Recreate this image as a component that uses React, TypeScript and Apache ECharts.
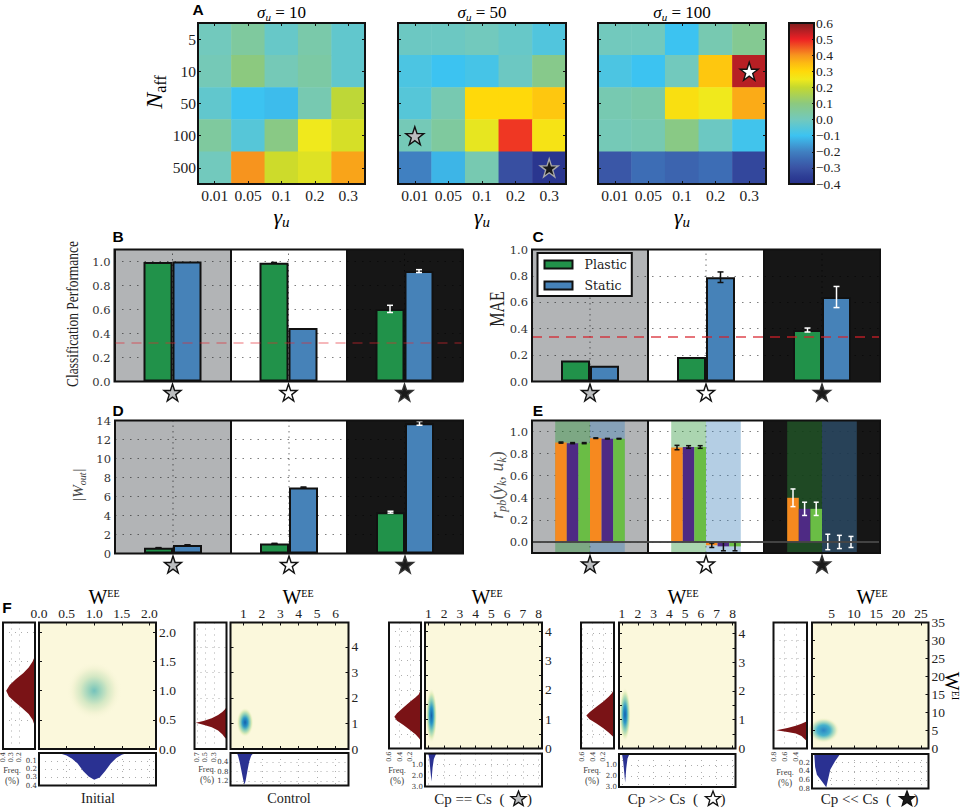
import { useEffect, useRef } from "react";
import * as echarts from "echarts";

const SERIF = "Liberation Serif";
const WIDE_SERIF = "DejaVu Serif";
const SANS = "Liberation Sans";
const INK = "#111";

// panel A
const gammaLabels = ["0.01", "0.05", "0.1", "0.2", "0.3"];
const affLabels = ["5", "10", "50", "100", "500"];
const heat10 = [
  [0.0, 0.05, -0.02, 0.03, -0.03],
  [0.01, 0.1, 0.01, 0.04, -0.03],
  [-0.03, -0.1, -0.11, 0.02, 0.19],
  [0.05, -0.05, 0.09, 0.25, 0.22],
  [0.0, 0.4, 0.21, 0.23, 0.38],
];
const heat50 = [
  [-0.01, -0.01, 0.0, -0.02, -0.06],
  [-0.07, -0.1, -0.08, -0.01, 0.08],
  [-0.05, 0.02, 0.3, 0.3, 0.33],
  [0.01, 0.05, 0.24, 0.48, 0.27],
  [-0.2, -0.12, 0.02, -0.31, -0.38],
];
const heat100 = [
  [0.0, 0.0, -0.1, 0.02, 0.07],
  [-0.07, -0.1, 0.0, 0.33, 0.55],
  [0.02, 0.03, 0.28, 0.25, 0.37],
  [0.01, 0.02, 0.09, -0.01, -0.09],
  [-0.29, -0.24, -0.26, -0.24, -0.33],
];
const colorStops = [
  "#27308a", "#2e3f96", "#3a53a4", "#3c68b2", "#4080c1", "#3fa1d9", "#3cc3f1",
  "#56c6d8", "#72c9bd", "#7fc99e", "#8cc97f", "#a8d157", "#c4d82f", "#f0e91c",
  "#ffd90a", "#fdbb12", "#f7941e", "#f15a22", "#ed2024", "#b71f24", "#7f1d1d",
];
const colorbarTicks = [-0.4, -0.3, -0.2, -0.1, 0, 0.1, 0.2, 0.3, 0.4, 0.5, 0.6];

// panels B, C, D
const sections = ["grey", "white", "black"];
const sectionColors = ["#b2b4b6", "#ffffff", "#161616"];
const starColors = ["#bbbdbf", "#ffffff", "#1a1a1a"];
const perfPlastic = [0.995, 0.99, 0.605];
const perfStatic = [1.0, 0.445, 0.92];
const perfPlasticErr = [0, 0.002, 0.03];
const perfStaticErr = [0, 0, 0.012];
const maePlastic = [0.16, 0.185, 0.39];
const maeStatic = [0.12, 0.79, 0.64];
const maePlasticErr = [0, 0, 0.015];
const maeStaticErr = [0, 0.04, 0.08];
const wPlastic = [0.6, 1.05, 4.35];
const wStatic = [0.9, 6.95, 13.7];
const wPlasticErr = [0.02, 0.02, 0.1];
const wStaticErr = [0.02, 0.05, 0.2];

// panel E
const rOrangePlastic = [0.9, 0.855, 0.4];
const rPurplePlastic = [0.895, 0.86, 0.3];
const rLimePlastic = [0.895, 0.86, 0.3];
const rOrangeStatic = [0.94, -0.03, 0.0];
const rPurpleStatic = [0.935, -0.04, 0.0];
const rLimeStatic = [0.935, -0.04, 0.0];
const rOrangePlasticErr = [0.005, 0.02, 0.08];
const rPurplePlasticErr = [0.005, 0.012, 0.06];
const rLimePlasticErr = [0.005, 0.012, 0.06];
const rOrangeStaticErr = [0.003, 0.02, 0.07];
const rPurpleStaticErr = [0.003, 0.04, 0.06];
const rLimeStaticErr = [0.003, 0.04, 0.05];

// panel F: [freq, W^EI] on the left, [W^EE, freq] underneath
const leftInitial = [[0, 1.6], [0.03, 1.5], [0.08, 1.4], [0.15, 1.3], [0.24, 1.2], [0.32, 1.1], [0.365, 1.0], [0.33, 0.9], [0.25, 0.8], [0.16, 0.7], [0.08, 0.6], [0.03, 0.5], [0, 0.38]];
const bottomInitial = [[0.36, 0], [0.5, 0.03], [0.6, 0.07], [0.7, 0.13], [0.8, 0.22], [0.9, 0.29], [1.0, 0.33], [1.1, 0.3], [1.2, 0.22], [1.3, 0.13], [1.4, 0.06], [1.5, 0.02], [1.6, 0]];
const leftControl = [[0, 1.63], [0.04, 1.55], [0.1, 1.45], [0.2, 1.33], [0.35, 1.2], [0.55, 1.1], [0.73, 1.03], [0.55, 0.95], [0.35, 0.85], [0.2, 0.72], [0.1, 0.58], [0.04, 0.45], [0, 0.38]];
const bottomControl = [[0.65, 0], [0.72, 0.15], [0.8, 0.4], [0.9, 0.8], [1.0, 1.2], [1.06, 1.36], [1.12, 1.2], [1.22, 0.75], [1.32, 0.35], [1.42, 0.12], [1.55, 0]];
const leftEqual = [[0, 2.03], [0.04, 1.85], [0.1, 1.75], [0.2, 1.6], [0.33, 1.4], [0.45, 1.2], [0.5, 1.08], [0.45, 0.95], [0.33, 0.8], [0.2, 0.62], [0.1, 0.48], [0.04, 0.36], [0, 0.26]];
const bottomEqual = [[1.0, 0], [1.07, 0.5], [1.13, 1.5], [1.2, 2.55], [1.27, 1.3], [1.35, 0.5], [1.5, 0]];
const leftPlastic = [[0, 2.05], [0.04, 1.92], [0.1, 1.8], [0.2, 1.63], [0.33, 1.45], [0.46, 1.26], [0.52, 1.15], [0.46, 1.02], [0.33, 0.87], [0.2, 0.7], [0.1, 0.56], [0.04, 0.45], [0, 0.38]];
const bottomPlastic = [[1.0, 0], [1.07, 0.6], [1.13, 1.5], [1.2, 2.6], [1.27, 1.3], [1.35, 0.4], [1.47, 0]];
const leftStatic = [[0.2, 7.6], [0.3, 6.9], [0.4, 6.3], [0.55, 5.7], [0.75, 5.05], [0.55, 4.6], [0.4, 4.2], [0.3, 3.5], [0.2, 2.0]];
const bottomStatic = [[1.1, 0], [1.3, 0.3], [1.7, 0.48], [2.8, 0.63], [3.8, 0.77], [4.7, 0.36], [5.8, 0.16], [6.9, 0]];

const STAR_PATH = "path://M50 0L61.8 35.1H97.6L68.6 56.7L79.4 91L50 70.2L20.6 91L31.4 56.7L2.4 35.1H38.2Z";

type Rect = { x: number; y: number; w: number; h: number };

const grids: any[] = [];
const xAxes: any[] = [];
const yAxes: any[] = [];
const series: any[] = [];
const graphics: any[] = [];
const heatSeries: number[] = [];

function addGrid(r: Rect) {
  grids.push({ left: r.x, top: r.y, width: r.w, height: r.h, containLabel: false, outerBoundsMode: "none", show: false });
  graphics.push({ type: "rect", z: 100, shape: { x: r.x, y: r.y, width: r.w, height: r.h }, style: { fill: "none", stroke: INK, lineWidth: 2 } });
  return grids.length - 1;
}

function addX(o: any) {
  xAxes.push({ axisLine: { show: false, onZero: false }, axisTick: { show: false }, axisLabel: { show: false }, splitLine: { show: false }, ...o });
  return xAxes.length - 1;
}

function addY(o: any) {
  yAxes.push({ axisLine: { show: false, onZero: false }, axisTick: { show: false }, axisLabel: { show: false }, splitLine: { show: false }, ...o });
  return yAxes.length - 1;
}

function label(x: number, y: number, text: string, o: any = {}) {
  const { rotation = 0, scaleX = 1, scaleY = 1, ...style } = o;
  graphics.push({
    type: "text", z: 100, x, y, rotation, scaleX, scaleY,
    style: { text, fontFamily: SERIF, fontSize: 14, fill: "#222", align: "center", verticalAlign: "middle", ...style },
  });
}

function starOutline(cx: number, cy: number, r: number) {
  const pts: number[][] = [];
  for (let i = 0; i < 10; i++) {
    const a = -Math.PI / 2 + (i * Math.PI) / 5;
    const k = i % 2 ? r * 0.42 : r;
    pts.push([cx + k * Math.cos(a), cy + k * Math.sin(a)]);
  }
  return pts;
}

function titleStar(cx: number, cy: number, fill: string) {
  graphics.push({ type: "polygon", z: 100, shape: { points: starOutline(cx, cy, 8) }, style: { fill, stroke: INK, lineWidth: 1.3 } });
}

function subText(parts: [string, string][], size: number, subSize: number, extra: any = {}) {
  const lh = extra.lineHeight ?? size + 4;
  return {
    text: parts.map(([k, t]) => `{${k}|${t}}`).join(""),
    rich: {
      i: { fontFamily: SERIF, fontStyle: "italic", fontSize: size, lineHeight: lh, fill: extra.fill },
      n: { fontFamily: SERIF, fontSize: size, lineHeight: lh, fill: extra.fill },
      s: { fontFamily: SERIF, fontStyle: "italic", fontSize: subSize, lineHeight: subSize, verticalAlign: "bottom", fill: extra.fill },
      r: { fontFamily: SERIF, fontSize: subSize, lineHeight: subSize, verticalAlign: "bottom", fill: extra.fill },
      e: { fontFamily: SERIF, fontSize: subSize, lineHeight: subSize, verticalAlign: "top", fill: extra.fill },
    },
  };
}

function stars(xi: number, yi: number, z = 3) {
  return (points: { at: number[]; fill: string; stroke?: string }[], size = 18, offset = [0, 0]) => {
    series.push({
      type: "scatter", xAxisIndex: xi, yAxisIndex: yi, z, clip: false,
      symbol: STAR_PATH, symbolSize: size, symbolOffset: offset,
      data: points.map((p) => ({
        value: p.at,
        itemStyle: { color: p.fill, borderColor: p.stroke ?? INK, borderWidth: 1.4, opacity: 1 },
      })),
    });
  };
}

function addHeat(r: Rect, rows: number[][], showY: boolean, marks: { at: number[]; fill: string; stroke?: string }[]) {
  const gridIndex = addGrid(r);
  const tick = { show: true, inside: true, length: 3, alignWithLabel: true, lineStyle: { color: INK } };
  const xi = addX({
    type: "category", gridIndex, data: gammaLabels, position: "bottom", z: 5, axisTick: tick,
    axisLabel: { show: true, interval: 0, fontFamily: SERIF, fontSize: 15.5, color: "#222", margin: 3 },
  });
  addX({ type: "category", gridIndex, data: gammaLabels, position: "top", z: 5, axisTick: tick });
  const yi = addY({
    type: "category", gridIndex, data: affLabels, inverse: true, position: "left", z: 5, axisTick: tick,
    axisLabel: { show: showY, interval: 0, fontFamily: SERIF, fontSize: 15.5, color: "#222", margin: 2 },
  });
  addY({ type: "category", gridIndex, data: affLabels, inverse: true, position: "right", z: 5, axisTick: tick });
  heatSeries.push(series.length);
  series.push({
    type: "heatmap", xAxisIndex: xi, yAxisIndex: yi, z: 2, progressive: 0,
    data: rows.flatMap((row, y) => row.map((v, x) => [x, y, v])),
  });
  if (marks.length) stars(xi, yi)(marks);
}

function addColorbar(r: Rect) {
  const gridIndex = addGrid(r);
  const xi = addX({ type: "category", gridIndex, data: ["c"] });
  const yi = addY({
    type: "value", gridIndex, min: -0.4, max: 0.6, position: "right", z: 5,
    axisTick: { show: true, inside: true, length: 2, customValues: colorbarTicks, lineStyle: { color: INK } },
    axisLabel: {
      show: true, customValues: colorbarTicks, fontFamily: SERIF, fontSize: 13.5, color: "#222", margin: 2,
      formatter: (v: number) => v.toFixed(1).replace("-", "\u2212"),
    },
  });
  const fill = new echarts.graphic.LinearGradient(0, 1, 0, 0, colorStops.map((color, i) => ({ offset: i / (colorStops.length - 1), color })));
  series.push({
    type: "custom", xAxisIndex: xi, yAxisIndex: yi, data: [[0, -0.4]], encode: { x: 0, y: 1 },
    renderItem: (_: any, api: any) => {
      const bottom = api.coord([0, -0.4]);
      const top = api.coord([0, 0.6]);
      const w = api.size([1, 0])[0];
      return { type: "rect", shape: { x: bottom[0] - w / 2, y: top[1], width: w, height: bottom[1] - top[1] }, style: { fill } };
    },
  });
}

function addErrors(xi: number, yi: number, rows: number[][], capHalf: number) {
  series.push({
    type: "custom", xAxisIndex: xi, yAxisIndex: yi, z: 4, data: rows, encode: { x: 0, y: [1, 2] },
    renderItem: (_: any, api: any) => {
      const band = api.size([1, 0])[0];
      const cat = api.value(0);
      const x = api.coord([cat, 0])[0] + api.value(3) * band;
      const lo = api.coord([cat, api.value(1)])[1];
      const hi = api.coord([cat, api.value(2)])[1];
      const style = { stroke: cat === 2 ? "#fff" : INK, lineWidth: 1.5 };
      return {
        type: "group",
        children: [
          { type: "line", shape: { x1: x, y1: lo, x2: x, y2: hi }, style },
          { type: "line", shape: { x1: x - capHalf, y1: lo, x2: x + capHalf, y2: lo }, style },
          { type: "line", shape: { x1: x - capHalf, y1: hi, x2: x + capHalf, y2: hi }, style },
        ],
      };
    },
  });
}

function errorRows(values: number[], errs: number[], offset: number) {
  return values.map((v, i) => [i, v - errs[i], v + errs[i], offset]).filter((row) => row[2] - row[1] > 0);
}

function sectionAxes(r: Rect, yMin: number, yMax: number, ticks: number[], decimals: number) {
  const gridIndex = addGrid(r);
  const xi = addX({
    type: "category", gridIndex, data: sections, position: "bottom",
    splitArea: { show: true, interval: 0, areaStyle: { color: sectionColors, opacity: 1 } },
    splitLine: { show: true, interval: 0, lineStyle: { color: INK, width: 2 } },
  });
  // z 1 lifts the dotted lines over the section backgrounds
  const yi = addY({
    type: "value", gridIndex, min: yMin, max: yMax, z: 1,
    axisTick: { show: false, customValues: ticks },
    axisLabel: { show: true, customValues: ticks, fontFamily: WIDE_SERIF, fontSize: 11.5, color: "#333", margin: 4, formatter: (v: number) => v.toFixed(decimals) },
    splitLine: { show: true, lineStyle: { color: "rgba(0,0,0,0.5)", type: [1.5, 6], width: 1 } },
  });
  // dotted guide through the middle of each section, behind the bars
  series.push({
    type: "custom", xAxisIndex: xi, yAxisIndex: yi, z: 1, data: sections.map((_, i) => [i, yMin]), encode: { x: 0, y: 1 },
    renderItem: (_: any, api: any) => {
      const a = api.coord([api.value(0), yMin]);
      const b = api.coord([api.value(0), yMax]);
      return { type: "line", shape: { x1: a[0], y1: a[1], x2: b[0], y2: b[1] }, style: { stroke: "rgba(0,0,0,0.55)", lineWidth: 1, lineDash: [1.5, 4] } };
    },
  });
  stars(xi, yi, 6)(sections.map((_, i) => ({ at: [i, yMin], fill: starColors[i], stroke: i === 2 ? "#333" : INK })), 17, [0, 11]);
  return { xi, yi };
}

function addBars(r: Rect, plastic: number[], stat: number[], plasticErr: number[], statErr: number[], yMax: number, ticks: number[], decimals: number, ref?: { y: number; color: string }) {
  const { xi, yi } = sectionAxes(r, 0, yMax, ticks, decimals);
  const bar = (name: string, data: number[], color: string) => ({
    type: "bar", name, data, xAxisIndex: xi, yAxisIndex: yi, barWidth: "25%", barGap: "0%", z: 2,
    itemStyle: { color, borderColor: INK, borderWidth: 2 },
  });
  const first: any = bar("Plastic", plastic, "#21924a");
  if (ref) {
    first.markLine = {
      silent: true, symbol: "none", z: 7, label: { show: false }, data: [{ yAxis: ref.y }],
      lineStyle: { color: ref.color, type: [10, 7], width: 2 },
    };
  }
  series.push(first, bar("Static", stat, "#4682b8"));
  addErrors(xi, yi, errorRows(plastic, plasticErr, -0.125), 3);
  addErrors(xi, yi, errorRows(stat, statErr, 0.125), 3);
}

function addCorrelation(r: Rect) {
  const { xi, yi } = sectionAxes(r, -0.1, 1.1, [0, 0.2, 0.4, 0.6, 0.8, 1.0], 1);
  series.push({
    type: "custom", xAxisIndex: xi, yAxisIndex: yi, z: 1, data: sections.map((_, i) => [i, -0.1]), encode: { x: 0, y: 1 },
    renderItem: (_: any, api: any) => {
      const band = api.size([1, 0])[0];
      const cx = api.coord([api.value(0), 0])[0];
      const top = api.coord([api.value(0), 1.1])[1];
      const bottom = api.coord([api.value(0), -0.1])[1];
      const shape = (x: number) => ({ x, y: top, width: band * 0.3, height: bottom - top });
      return {
        type: "group",
        children: [
          { type: "rect", shape: shape(cx - band * 0.3), style: { fill: "rgba(44,149,58,0.4)" } },
          { type: "rect", shape: shape(cx), style: { fill: "rgba(68,132,187,0.4)" } },
        ],
      };
    },
  });
  const groups: [number[], number[], string][] = [
    [rOrangePlastic, rOrangePlasticErr, "#f6891f"],
    [rPurplePlastic, rPurplePlasticErr, "#4e2a84"],
    [rLimePlastic, rLimePlasticErr, "#6abd45"],
    [rOrangeStatic, rOrangeStaticErr, "#f6891f"],
    [rPurpleStatic, rPurpleStaticErr, "#4e2a84"],
    [rLimeStatic, rLimeStaticErr, "#6abd45"],
  ];
  groups.forEach(([data, , color], i) => {
    const s: any = { type: "bar", data, xAxisIndex: xi, yAxisIndex: yi, barWidth: "10%", barGap: "0%", z: 2, itemStyle: { color } };
    if (i === 0) {
      s.markLine = {
        silent: true, symbol: "none", z: 7, label: { show: false }, data: [{ yAxis: 0 }],
        lineStyle: { color: "rgba(70,70,70,0.95)", type: "solid", width: 2 },
      };
    }
    series.push(s);
  });
  groups.forEach(([data, errs], i) => addErrors(xi, yi, errorRows(data, errs, (i - 2.5) * 0.1), 2.5));
}

function addPolygon(xi: number, yi: number, points: number[][], fill: string) {
  series.push({
    type: "custom", xAxisIndex: xi, yAxisIndex: yi, z: 2, data: [points[0]], encode: { x: 0, y: 1 },
    renderItem: (_: any, api: any) => ({
      type: "polygon", shape: { points: points.map((p) => api.coord(p)) }, style: { fill },
    }),
  });
}

const dots = { show: true, lineStyle: { color: "rgba(0,0,0,0.32)", type: [1, 5], width: 1 } };

type DensityPanel = {
  left: Rect; main: Rect; bottom: Rect;
  xRange: number[]; yRange: number[];
  xTicks: number[]; yTicks: number[]; yMinor: number[];
  xDigits: number; yDigits: number;
  freqLeft: number[]; freqLeftTicks: number[];
  freqBottom: number; freqBottomTicks: number[]; freqBottomDigits: number;
  leftCurve: number[][]; bottomCurve: number[][];
  blob: number[]; blobStops: [number, string][];
};

function addDensity(p: DensityPanel) {
  const serifTicks = { show: true, fontFamily: SERIF, fontSize: 13.5, color: "#222", margin: 2 };
  const tick = { show: true, inside: true, length: 3, lineStyle: { color: INK } };
  const g = addGrid(p.main);
  const xi = addX({
    type: "value", gridIndex: g, position: "top", min: p.xRange[0], max: p.xRange[1], z: 5,
    axisTick: { ...tick, customValues: p.xTicks },
    axisLabel: { ...serifTicks, customValues: p.xTicks, formatter: (v: number) => v.toFixed(p.xDigits) },
  });
  addX({ type: "value", gridIndex: g, position: "bottom", min: p.xRange[0], max: p.xRange[1], z: 5, axisTick: { ...tick, customValues: p.xTicks } });
  const yi = addY({
    type: "value", gridIndex: g, position: "right", min: p.yRange[0], max: p.yRange[1], z: 5,
    axisTick: { ...tick, customValues: p.yMinor },
    axisLabel: { ...serifTicks, margin: 3, customValues: p.yTicks, formatter: (v: number) => v.toFixed(p.yDigits) },
  });
  addY({ type: "value", gridIndex: g, position: "left", min: p.yRange[0], max: p.yRange[1], z: 5, axisTick: { ...tick, customValues: p.yMinor } });
  const fill = new echarts.graphic.RadialGradient(0.5, 0.5, 0.5, p.blobStops.map(([offset, color]) => ({ offset, color })));
  graphics.push({ type: "rect", z: -1, shape: { x: p.main.x, y: p.main.y, width: p.main.w, height: p.main.h }, style: { fill: "#fbf8dc" } });
  series.push({
    type: "custom", xAxisIndex: xi, yAxisIndex: yi, z: 2, data: [p.blob], encode: { x: 0, y: 1 },
    renderItem: (_: any, api: any) => {
      const c = api.coord([api.value(0), api.value(1)]);
      const s = api.size([api.value(2), api.value(3)]);
      return { type: "ellipse", shape: { cx: c[0], cy: c[1], rx: s[0], ry: s[1] }, style: { fill } };
    },
  });

  const gl = addGrid(p.left);
  const lx = addX({
    type: "value", gridIndex: gl, inverse: true, position: "bottom", min: p.freqLeft[0], max: p.freqLeft[1],
    axisTick: { show: false, customValues: p.freqLeftTicks },
    axisLabel: { show: true, customValues: p.freqLeftTicks, rotate: 90, fontFamily: WIDE_SERIF, fontSize: 6.5, color: "#333", margin: 3, formatter: (v: number) => v.toFixed(1) },
    splitLine: dots,
  });
  const ly = addY({
    type: "value", gridIndex: gl, min: p.yRange[0], max: p.yRange[1],
    axisTick: { show: false, customValues: p.yMinor }, splitLine: dots,
  });
  addPolygon(lx, ly, p.leftCurve, "#7a1316");

  const gb = addGrid(p.bottom);
  const bx = addX({
    type: "value", gridIndex: gb, position: "bottom", min: p.xRange[0], max: p.xRange[1],
    axisTick: { show: false, customValues: p.xTicks }, splitLine: dots,
  });
  const by = addY({
    type: "value", gridIndex: gb, inverse: true, min: 0, max: p.freqBottom,
    axisTick: { show: false, customValues: p.freqBottomTicks },
    axisLabel: { show: true, customValues: p.freqBottomTicks, fontFamily: WIDE_SERIF, fontSize: 7, color: "#333", margin: 2, formatter: (v: number) => v.toFixed(p.freqBottomDigits) },
    splitLine: dots,
  });
  addPolygon(bx, by, p.bottomCurve, "#2a3192");
}

const soft: [number, string][] = [[0, "#74c2bc"], [0.2, "#9bd3bc"], [0.5, "#d5e8c4"], [0.75, "#f2f3d3"], [1, "rgba(251,248,220,0)"]];
const sharp: [number, string][] = [[0, "#1560ac"], [0.3, "#2a96c6"], [0.55, "#8ccfb6"], [0.78, "#e0edbb"], [1, "rgba(251,248,220,0)"]];
const broad: [number, string][] = [[0, "#2a86c4"], [0.4, "#45b2cc"], [0.62, "#a4d8c0"], [0.82, "#ecf1ca"], [1, "rgba(251,248,220,0)"]];

function buildOption() {
  // panel A
  addHeat({ x: 198, y: 23, w: 167, h: 161 }, heat10, true, []);
  addHeat({ x: 398, y: 23, w: 168, h: 161 }, heat50, false, [
    { at: [0, 3], fill: "#bbbdbf" },
    { at: [4, 4], fill: "#1a1a1a", stroke: "#a8a8a8" },
  ]);
  addHeat({ x: 598, y: 23, w: 168, h: 161 }, heat100, false, [{ at: [4, 1], fill: "#ffffff" }]);
  addColorbar({ x: 789, y: 23, w: 25, h: 161 });
  [["10", 281.5], ["50", 482], ["100", 682]].forEach(([v, x]) => {
    label(x as number, 12, "", subText([["i", "\u03c3"], ["s", "u"], ["n", ` = ${v}`]], 17, 11));
    label(x as number, 216, "", subText([["i", "\u03b3"], ["s", "u"]], 22, 15));
  });
  label(154, 92, "", { rotation: Math.PI / 2, ...subText([["i", "N"], ["r", "aff"]], 24, 16) });

  // panels B to E
  addBars({ x: 114.5, y: 249.5, w: 348, h: 132 }, perfPlastic, perfStatic, perfPlasticErr, perfStaticErr, 1.1, [0, 0.2, 0.4, 0.6, 0.8, 1.0], 1, { y: 0.32, color: "rgba(228,40,50,0.33)" });
  addBars({ x: 532, y: 249.5, w: 348, h: 132 }, maePlastic, maeStatic, maePlasticErr, maeStaticErr, 1.0, [0, 0.2, 0.4, 0.6, 0.8, 1.0], 1, { y: 0.335, color: "rgba(215,30,40,0.62)" });
  addBars({ x: 115, y: 420.5, w: 348, h: 133 }, wPlastic, wStatic, wPlasticErr, wStaticErr, 14, [0, 2, 4, 6, 8, 10, 12, 14], 0);
  addCorrelation({ x: 532, y: 420.5, w: 348, h: 132.5 });

  label(73, 314, "Classification Performance", { rotation: Math.PI / 2, fontSize: 16, scaleX: 0.84 });
  label(497, 309, "MAE", { rotation: Math.PI / 2, fontSize: 20, scaleX: 0.8 });
  label(78, 485, "", { rotation: Math.PI / 2, ...subText([["i", "|W"], ["s", "out"], ["i", "|"]], 15, 10, { fill: "#444" }) });
  label(497, 485, "", { rotation: Math.PI / 2, ...subText([["i", "r"], ["s", "pb"], ["n", "("], ["i", "y"], ["s", "k"], ["n", ", "], ["i", "u"], ["s", "k"], ["n", ")"]], 18, 12, { fill: "#555" }) });

  // panel F
  addDensity({
    left: { x: 3, y: 622.5, w: 32, h: 126.5 }, main: { x: 39, y: 622.5, w: 117, h: 126.5 }, bottom: { x: 39, y: 753, w: 117, h: 32.5 },
    xRange: [0, 2.12], yRange: [0, 2.17], xTicks: [0, 0.5, 1, 1.5, 2], yTicks: [0, 0.5, 1, 1.5, 2], yMinor: [0, 0.5, 1, 1.5, 2], xDigits: 1, yDigits: 1,
    freqLeft: [0, 0.405], freqLeftTicks: [0.2, 0.3, 0.4], freqBottom: 0.4, freqBottomTicks: [0.1, 0.2, 0.3, 0.4], freqBottomDigits: 1,
    leftCurve: leftInitial, bottomCurve: bottomInitial, blob: [1.0, 1.0, 0.5, 0.5], blobStops: soft,
  });
  addDensity({
    left: { x: 194.5, y: 622.5, w: 32, h: 126.5 }, main: { x: 230.5, y: 622.5, w: 118, h: 126.5 }, bottom: { x: 230.5, y: 753, w: 118, h: 32.5 },
    xRange: [0.3, 6.7], yRange: [0, 4.95], xTicks: [1, 2, 3, 4, 5, 6], yTicks: [0, 1, 2, 3, 4], yMinor: [0, 1, 2, 3, 4], xDigits: 0, yDigits: 0,
    freqLeft: [0, 0.76], freqLeftTicks: [0.3, 0.5, 0.7], freqBottom: 1.4, freqBottomTicks: [0.4, 0.8, 1.2], freqBottomDigits: 1,
    leftCurve: leftControl, bottomCurve: bottomControl, blob: [1.09, 1.04, 0.46, 0.58], blobStops: sharp,
  });
  addDensity({
    left: { x: 389, y: 622.5, w: 32, h: 126 }, main: { x: 425, y: 622.5, w: 117, h: 126 }, bottom: { x: 425, y: 753.5, w: 117, h: 33 },
    xRange: [0.79, 8.21], yRange: [0, 4.3], xTicks: [1, 2, 3, 4, 5, 6, 7, 8], yTicks: [0, 1, 2, 3, 4], yMinor: [0, 0.5, 1, 1.5, 2, 2.5, 3, 3.5, 4], xDigits: 0, yDigits: 0,
    freqLeft: [0, 0.6], freqLeftTicks: [0.2, 0.4, 0.6], freqBottom: 3, freqBottomTicks: [1, 2, 3], freqBottomDigits: 1,
    leftCurve: leftEqual, bottomCurve: bottomEqual, blob: [1.2, 1.12, 0.36, 0.95], blobStops: sharp,
  });
  addDensity({
    left: { x: 581, y: 622.5, w: 33, h: 126 }, main: { x: 619, y: 622.5, w: 116.5, h: 126 }, bottom: { x: 619, y: 754, w: 116.5, h: 33 },
    xRange: [0.81, 8.19], yRange: [0, 4.38], xTicks: [1, 2, 3, 4, 5, 6, 7, 8], yTicks: [0, 1, 2, 3, 4], yMinor: [0, 0.5, 1, 1.5, 2, 2.5, 3, 3.5, 4], xDigits: 0, yDigits: 0,
    freqLeft: [0, 0.62], freqLeftTicks: [0.2, 0.4, 0.6], freqBottom: 3, freqBottomTicks: [1, 2, 3], freqBottomDigits: 1,
    leftCurve: leftPlastic, bottomCurve: bottomPlastic, blob: [1.19, 1.18, 0.36, 0.95], blobStops: sharp,
  });
  addDensity({
    left: { x: 773.5, y: 622.5, w: 33.5, h: 126 }, main: { x: 812, y: 622.5, w: 116.5, h: 126 }, bottom: { x: 812, y: 754, w: 116.5, h: 34.5 },
    xRange: [0.6, 26.7], yRange: [0, 35], xTicks: [5, 10, 15, 20, 25], yTicks: [0, 5, 10, 15, 20, 25, 30, 35], yMinor: [0, 5, 10, 15, 20, 25, 30, 35], xDigits: 0, yDigits: 0,
    freqLeft: [0.2, 0.8], freqLeftTicks: [0.4, 0.6, 0.8], freqBottom: 0.8, freqBottomTicks: [0.2, 0.4, 0.6, 0.8], freqBottomDigits: 1,
    leftCurve: leftStatic, bottomCurve: bottomStatic, blob: [3.2, 5.06, 3.6, 3.6], blobStops: broad,
  });

  [104, 298, 487, 683, 872].forEach((x) => {
    label(x, 596.5, "", subText([["n", "W"], ["e", "EE"]], 20, 10, { lineHeight: 16 }));
  });
  label(952, 686, "", { rotation: -Math.PI / 2, ...subText([["n", "W"], ["e", "EI"]], 20, 10, { lineHeight: 16 }) });

  [[12, 770], [207, 769], [397, 770], [592, 770], [785, 772]].forEach(([x, y]) => {
    label(x, y, "Freq.", { fontSize: 8.5, fill: "#444" });
    label(x, y + 11, "(%)", { fontSize: 9.5, fill: "#444" });
  });

  label(98, 798, "Initial", { fontSize: 14.2 });
  label(289, 798, "Control", { fontSize: 14.2 });
  label(483, 799, "Cp == Cs  (      )", { fontSize: 15 });
  titleStar(518.5, 799, "#bbbdbf");
  label(676.5, 799, "Cp >> Cs  (      )", { fontSize: 15 });
  titleStar(713, 799, "#ffffff");
  label(869.5, 799, "Cp << Cs  (      )", { fontSize: 15 });
  titleStar(907, 799, "#1a1a1a");

  const letter = { fontFamily: SANS, fontWeight: "bold", fontSize: 15.5, fill: "#000" };
  label(198, 9, "A", letter);
  label(118, 236, "B", letter);
  label(538, 236, "C", letter);
  label(118, 410, "D", letter);
  label(538, 410, "E", letter);
  label(7, 607, "F", letter);

  return {
    animation: false,
    backgroundColor: "#fff",
    grid: grids,
    xAxis: xAxes,
    yAxis: yAxes,
    series,
    graphic: { elements: graphics },
    visualMap: {
      type: "continuous", show: false, min: -0.4, max: 0.6, dimension: 2,
      seriesIndex: heatSeries, inRange: { color: colorStops },
    },
    legend: {
      data: ["Plastic", "Static"], orient: "vertical", left: 537.5, top: 253, selectedMode: false, z: 50,
      icon: "rect", itemWidth: 28, itemHeight: 8, itemGap: 8, padding: [5, 5, 4, 6],
      backgroundColor: "#fff", borderColor: INK, borderWidth: 2,
      itemStyle: { borderColor: INK, borderWidth: 2 },
      textStyle: { fontFamily: WIDE_SERIF, fontSize: 12.5, color: "#222", padding: [0, 0, 0, 7] },
    },
  };
}

export default function App() {
  const ref = useRef<HTMLDivElement>(null);

  useEffect(() => {
    if (!ref.current) return;
    document.body.style.margin = "0";
    grids.length = xAxes.length = yAxes.length = series.length = graphics.length = heatSeries.length = 0;
    const chart = echarts.init(ref.current, undefined, { renderer: "svg" });
    chart.setOption(buildOption() as any);
    return () => chart.dispose();
  }, []);

  return <div ref={ref} style={{ width: 964, height: 808 }} />;
}
